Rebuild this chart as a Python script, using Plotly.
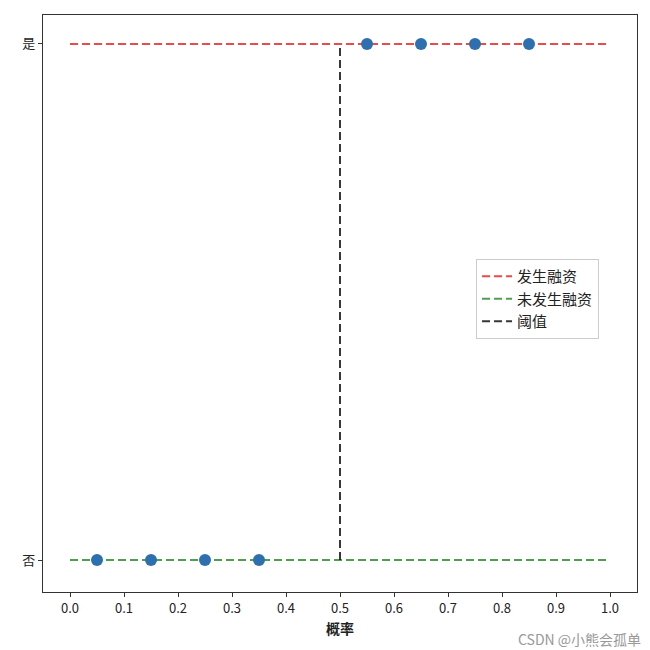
import plotly.graph_objects as go

# data
prob_x = [0.05, 0.15, 0.25, 0.35, 0.55, 0.65, 0.75, 0.85]
label_y = [0, 0, 0, 0, 1, 1, 1, 1]
threshold = 0.5
line_x = [0.0, 1.0]
yes_y = [1, 1]
no_y = [0, 0]
thr_x = [threshold, threshold]
thr_y = [0, 1]
x_ticks = [0.0, 0.1, 0.2, 0.3, 0.4, 0.5, 0.6, 0.7, 0.8, 0.9, 1.0]
y_ticks = [0, 1]
y_tick_labels = ["否", "是"]
series_names = ["发生融资", "未发生融资", "阈值"]

FONT = "Noto Sans CJK SC, DejaVu Sans, sans-serif"
dash = "8px,4px"

fig = go.Figure()
fig.add_trace(go.Scatter(x=line_x, y=yes_y, mode="lines", name=series_names[0],
                         line=dict(color="rgba(232,55,50,0.9)", width=2, dash=dash)))
fig.add_trace(go.Scatter(x=line_x, y=no_y, mode="lines", name=series_names[1],
                         line=dict(color="rgba(45,145,45,0.85)", width=2, dash=dash)))
fig.add_trace(go.Scatter(x=thr_x, y=thr_y, mode="lines", name=series_names[2],
                         line=dict(color="rgba(20,20,20,0.85)", width=2, dash=dash)))
fig.add_trace(go.Scatter(x=prob_x, y=label_y, mode="markers", showlegend=False,
                         marker=dict(color="#2e6fb0", size=12, line=dict(width=0))))

axis_common = dict(showgrid=False, zeroline=False, showline=True, mirror=True,
                   linecolor="#333333", linewidth=1.2, ticks="outside", ticklen=4,
                   tickcolor="#333333", tickfont=dict(family=FONT, size=13, color="#222222"))

fig.update_layout(
    width=650, height=650,
    margin=dict(l=35, r=21, t=7, b=66),
    paper_bgcolor="white", plot_bgcolor="white",
    font=dict(family=FONT, size=13, color="#222222"),
    xaxis=dict(range=[-0.05, 1.05], tickvals=x_ticks,
               ticktext=[f"{v:.1f}" for v in x_ticks],
               title=dict(text="<b>概率</b>", font=dict(family=FONT, size=14), standoff=8),
               **axis_common),
    yaxis=dict(range=[-0.062, 1.056], tickvals=y_ticks, ticktext=y_tick_labels,
               **axis_common),
    legend=dict(x=0.729, y=0.577, xanchor="left", yanchor="top",
                bgcolor="white", bordercolor="#cccccc", borderwidth=1,
                font=dict(family=FONT, size=15, color="#222222"),
                itemwidth=30, tracegroupgap=0),
    showlegend=True,
)

fig.add_annotation(text="CSDN @小熊会孤单", xref="paper", yref="paper",
                   x=1.01, y=-0.06, xanchor="right", yanchor="top", showarrow=False,
                   font=dict(family=FONT, size=14, color="#999999"))

fig.write_html("out.html")
